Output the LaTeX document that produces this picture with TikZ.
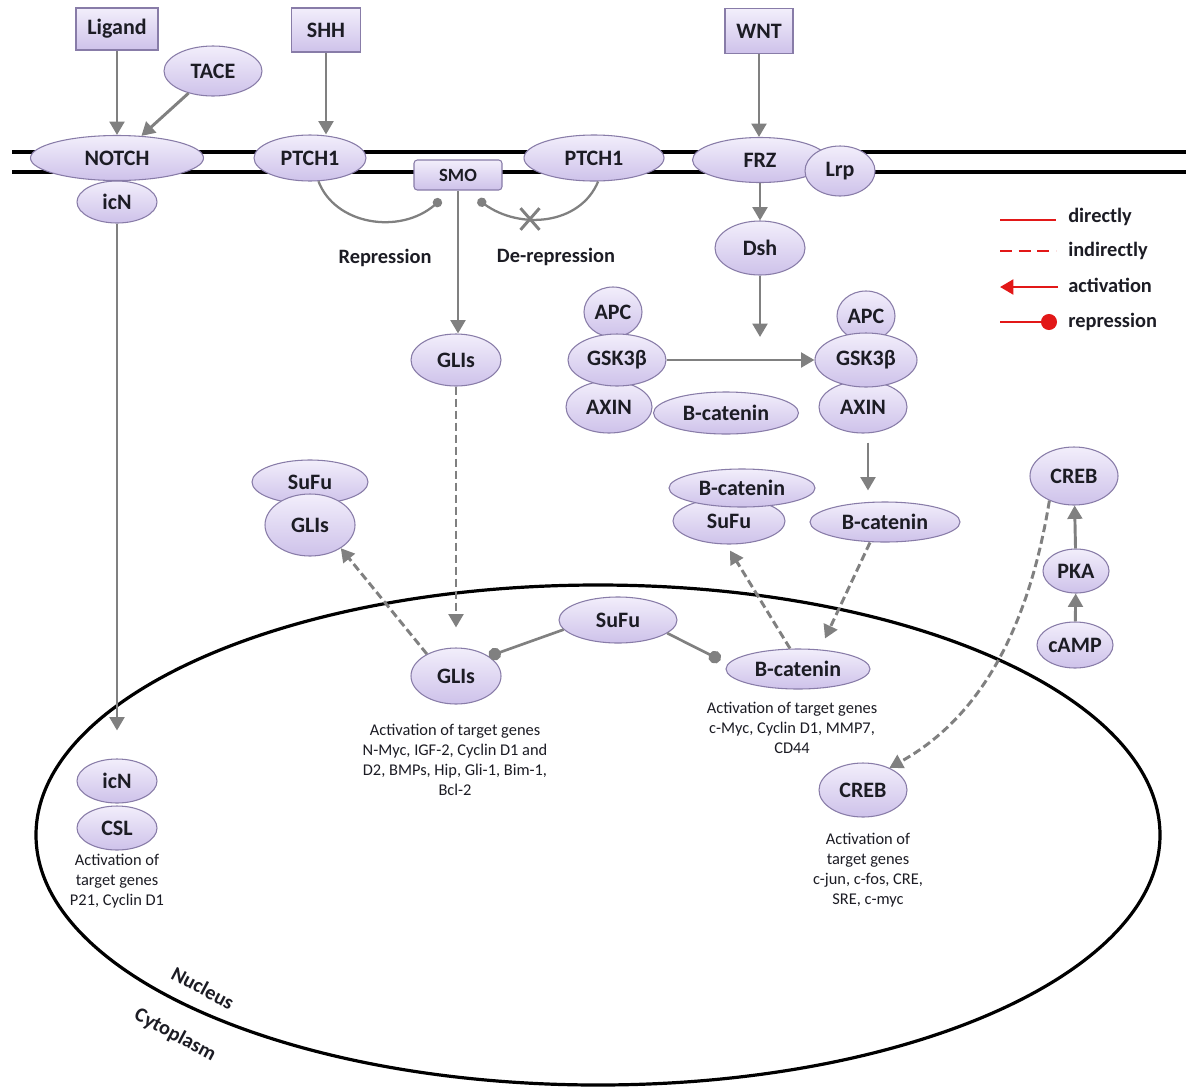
\documentclass[tikz,border=0pt]{standalone}
\usepackage{fontspec}
\setmainfont{Carlito}
\usetikzlibrary{shapes.geometric,shapes.misc,arrows.meta}
\definecolor{lavtop}{RGB}{242,238,251}
\definecolor{lavbot}{RGB}{206,194,234}
\definecolor{bordc}{RGB}{136,124,168}
\definecolor{arrc}{RGB}{128,128,128}
\definecolor{legred}{RGB}{226,24,24}
\definecolor{txtc}{RGB}{28,28,36}
\begin{document}
\begin{tikzpicture}[x=0.75pt,y=-0.75pt,
  sz/.style 2 args={minimum width=#1*0.75pt, minimum height=#2*0.75pt},
  prot/.style={ellipse, draw=bordc, line width=0.8pt, top color=lavtop, bottom color=lavbot, inner sep=0pt, font=\bfseries\fontsize{16.5}{19}\selectfont, text=txtc},
  boxn/.style={rectangle, draw=bordc, line width=0.8pt, top color=lavtop, bottom color=lavbot, inner sep=0pt, font=\bfseries\fontsize{16.5}{19}\selectfont, text=txtc},
  act/.style={draw=arrc, line width=2.2pt, -{Triangle[length=10pt,width=11pt]}},
  dact/.style={act, dash pattern=on 6pt off 3pt},
  rep/.style={draw=arrc, line width=1.7pt, -{Circle[length=7pt]}},
  bigrep/.style={draw=arrc, line width=2pt, -{Circle[length=9.5pt]}},
  memb/.style={draw=black, line width=2.4pt},
  info/.style={align=center, font=\fontsize{12.3}{15}\selectfont, text=txtc, inner sep=0pt},
  lbl/.style={font=\bfseries\fontsize{15.3}{18}\selectfont, text=txtc, inner sep=0pt},
  legl/.style={draw=legred, line width=2.2pt},
]
\useasboundingbox (0,0) rectangle (1186,1090);
\fill[white] (0,0) rectangle (1186,1090);

% membrane and nucleus
\draw[memb] (12,152) -- (1186,152);
\draw[memb] (12,172) -- (1186,172);
\draw[line width=2.4pt] (598,835) ellipse [x radius=562, y radius=250];

% receptors / ligands
\node[boxn, sz={82}{42}] (lig) at (117,29) {Ligand};
\node[boxn, sz={69}{44}] (shh) at (326,30) {SHH};
\node[boxn, sz={68}{45}] (wnt) at (759,31) {WNT};
\node[prot, sz={98}{50}] (tace) at (213,71) {TACE};
\node[prot, sz={80}{42}] (icn1) at (117,202) {icN};
\node[prot, sz={173}{45}] (notch) at (117,158) {NOTCH};
\node[prot, sz={112}{46}] (ptch1a) at (310,158) {PTCH1};
\node[prot, sz={140}{46}] (ptch1b) at (594,158) {PTCH1};
\node[boxn, sz={88}{30}, rounded corners=2.5pt, font=\bfseries\fontsize{14}{16}\selectfont] (smo) at (458,175) {SMO};
\node[prot, sz={135}{45}] (frz) at (760,160) {FRZ};
\node[prot, sz={70}{50}] (lrp) at (840,171) {Lrp};
\node[prot, sz={90}{54}] (dsh) at (760,248) {Dsh};

% destruction complex
\node[prot, sz={58}{50}] (apc1) at (613,312) {APC};
\node[prot, sz={86}{52}] (axin1) at (609,407) {AXIN};
\node[prot, sz={98}{52}] (gsk1) at (617,360) {GSK3β};
\node[prot, sz={145}{42}] (bcat1) at (726,413) {B-catenin};
\node[prot, sz={58}{50}] (apc2) at (866,316) {APC};
\node[prot, sz={88}{52}] (axin2) at (863,407) {AXIN};
\node[prot, sz={102}{54}] (gsk2) at (866,360) {GSK3β};

% hedgehog
\node[prot, sz={90}{52}] (glis1) at (456,360) {GLIs};
\node[prot, sz={116}{44}] (sufu1) at (310,482) {SuFu};
\node[prot, sz={90}{62}] (glis2) at (310,525) {GLIs};

% wnt cytoplasm
\node[prot, sz={112}{46}] (sufu2) at (729,521) {SuFu};
\node[prot, sz={146}{38}] (bcat2) at (742,488) {B-catenin};
\node[prot, sz={150}{40}] (bcat3) at (885,522) {B-catenin};

% CREB
\node[prot, sz={88}{58}] (creb1) at (1074,476) {CREB};
\node[prot, sz={66}{44}] (pka) at (1076,571) {PKA};
\node[prot, sz={76}{46}] (camp) at (1075,645) {cAMP};

% nucleus
\node[prot, sz={118}{46}] (sufu3) at (618,620) {SuFu};
\node[prot, sz={90}{56}] (glis3) at (456,676) {GLIs};
\node[prot, sz={144}{40}] (bcat4) at (798,669) {B-catenin};
\node[prot, sz={88}{54}] (creb2) at (863,790) {CREB};
\node[prot, sz={80}{44}] (icn2) at (117,781) {icN};
\node[prot, sz={80}{44}] (csl) at (117,828) {CSL};

% connectors
\draw[act] (lig) -- (notch);
\draw[act] (tace) -- (notch);
\draw[act] (shh) -- (shh |- ptch1a.north);
\draw[act] (wnt) -- (wnt |- frz.north);
\draw[act] (frz) -- (dsh);
\coordinate (dshend) at (760,337);
\draw[act] (dsh) -- (dshend);
\draw[act] (gsk1) -- (gsk2);
\draw[act] ([shift={(5,9)}]axin2.south) -- ([shift={(5,-11)}]axin2.south |- bcat3.north);
\draw[act] (smo) -- (smo |- glis1.north);
\draw[dact, shorten >=15pt] (glis1) -- (glis3);
\draw[dact] (glis3.143) -- (glis2.323);
\draw[dact] ([shift={(-15,0)}]bcat3.south) -- ([shift={(27,-10)}]bcat4.north);
\draw[dact] ([shift={(-8,0)}]bcat4.north) -- ([shift={(1,6)}]sufu2.south);
\draw[dact] (creb1.225) .. controls (1030,620) and (985,715) .. (creb2.40);
\draw[act] (camp) -- (pka);
\draw[act] (pka) -- (creb1);
\draw[act, shorten >=21pt] (icn1) -- (icn2);
\draw[bigrep] (sufu3.190) -- (glis3.31);
\draw[bigrep] (sufu3.345) -- ([shift={(-5,-9)}]bcat4.west);
\draw[rep] (ptch1a.290) .. controls (335,225) and (400,235) .. ([shift={(-17,9)}]smo.south);
\draw[rep] (ptch1b.280) .. controls (580,225) and (520,230) .. ([shift={(20,9)}]smo.south);
\node[cross out, draw=arrc, line width=2.2pt, minimum width=12pt, minimum height=14pt, inner sep=0pt] (xmark) at (530,219) {};

% labels
\node[lbl] (replbl) at (385,258) {Repression};
\node[lbl] (dereplbl) at (556,257) {De-repression};
\node[lbl, rotate=-28] (nuc) at (203,988) {Nucleus};
\node[lbl, rotate=-28] (cyt) at (175,1035) {Cytoplasm};

% target gene texts
\node[info] (tglis) at (455,760) {Activation of target genes\\N-Myc, IGF-2, Cyclin D1 and\\D2, BMPs, Hip, Gli-1, Bim-1,\\Bcl-2};
\node[info] (tbcat) at (792,728) {Activation of target genes\\c-Myc, Cyclin D1, MMP7,\\CD44};
\node[info] (tcreb) at (868,870) {Activation of\\target genes\\c-jun, c-fos, CRE,\\SRE, c-myc};
\node[info] (tcsl) at (117,881) {Activation of\\target genes\\P21, Cyclin D1};

% legend
\coordinate (la1) at (1000,220); \coordinate (lb1) at (1056,220);
\coordinate (la2) at (1000,251); \coordinate (lb2) at (1056,251);
\coordinate (la3) at (1000,287); \coordinate (lb3) at (1058,287);
\coordinate (la4) at (1000,322); \coordinate (lb4) at (1057,322);
\draw[legl] (la1) -- (lb1);
\draw[legl, dash pattern=on 9pt off 5pt] (la2) -- (lb2);
\draw[legl, -{Triangle[length=10pt,width=11pt]}] (lb3) -- (la3);
\draw[legl, -{Circle[length=12pt]}] (la4) -- (lb4);
\node[lbl, anchor=west] (lt1) at (1068,217) {directly};
\node[lbl, anchor=west] (lt2) at (1068,251) {indirectly};
\node[lbl, anchor=west] (lt3) at (1068,285) {activation};
\node[lbl, anchor=west] (lt4) at (1068,322) {repression};
\end{tikzpicture}
\end{document}
